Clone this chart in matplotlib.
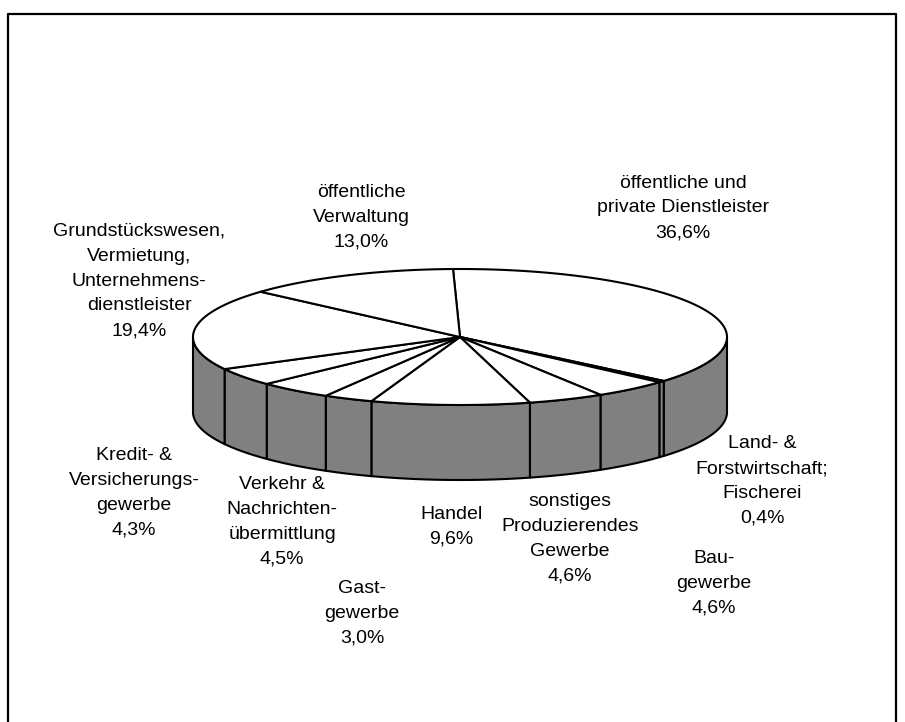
import matplotlib
import matplotlib.pyplot as plt
import numpy as np
from matplotlib.patches import Polygon

matplotlib.use('Agg')

labels = ['öffentliche und\nprivate Dienstleister', 'Land- &\nForstwirtschaft;\nFischerei',
          'Bau-\ngewerbe', 'sonstiges\nProduzierendes\nGewerbe', 'Handel', 'Gast-\ngewerbe',
          'Verkehr &\nNachrichten-\nübermittlung', 'Kredit- &\nVersicherungs-\ngewerbe',
          'Grundstückswesen,\nVermietung,\nUnternehmens-\ndienstleister', 'öffentliche\nVerwaltung']
shares = [36.6, 0.4, 4.6, 4.6, 9.6, 3.0, 4.5, 4.3, 19.4, 13.0]

# label anchor points (pixels), same order as labels
label_pos = [(683, 208), (762, 481), (714, 583), (570, 539), (451, 527), (362, 613),
             (282, 522), (134, 493), (139, 281), (361, 217)]

cx, cy, rx, ry, depth = 460, 337, 267, 68, 75
start = 91.5

fig = plt.figure(figsize=(9.05, 7.22), dpi=100)
ax = fig.add_axes([0, 0, 1, 1])
ax.set_xlim(0, 905)
ax.set_ylim(722, 0)
ax.axis('off')


def arc(t1, t2, dy=0):
    t = np.radians(np.linspace(t1, t2, 80))
    return np.column_stack([cx + rx * np.cos(t), cy - ry * np.sin(t) + dy])


cum = np.concatenate([[0], np.cumsum(shares)]) / sum(shares)
angles = start - 360 * cum

# side walls (front half only)
for i in range(len(shares)):
    hi, lo = angles[i], angles[i + 1]
    hi, lo = min(hi, 0), max(lo, -180)
    if hi <= lo:
        continue
    top = arc(hi, lo)
    bottom = arc(lo, hi, depth)
    ax.add_patch(Polygon(np.vstack([top, bottom]), closed=True, facecolor='#808080',
                         edgecolor='black', lw=1.5, joinstyle='round'))

# top face
for i in range(len(shares)):
    pts = np.vstack([[cx, cy], arc(angles[i], angles[i + 1])])
    ax.add_patch(Polygon(pts, closed=True, facecolor='white', edgecolor='black',
                         lw=1.5, joinstyle='round'))

for lab, v, (x, y) in zip(labels, shares, label_pos):
    txt = lab + '\n' + f'{v:.1f}'.replace('.', ',') + '%'
    ax.text(x, y, txt, ha='center', va='center', fontsize=14, linespacing=1.6,
            family='Liberation Sans', color='black')

ax.plot([8, 8, 896, 896], [730, 14, 14, 730], color='black', lw=1.6)

fig.savefig('out.png', dpi=100)
